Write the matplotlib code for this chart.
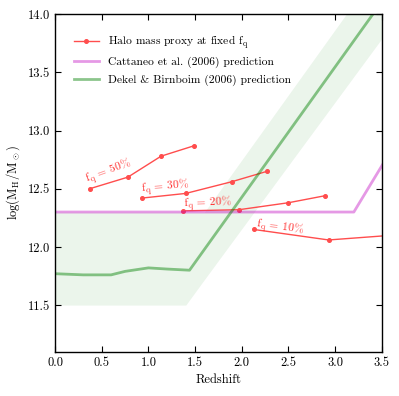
import matplotlib
matplotlib.use("Agg")
import matplotlib.pyplot as plt

plt.rcParams['font.family'] = 'serif'
plt.rcParams['font.serif'] = ['cmr10', 'DejaVu Serif']
plt.rcParams['mathtext.fontset'] = 'cm'
plt.rcParams['axes.formatter.use_mathtext'] = True
plt.rcParams['xtick.direction'] = 'in'
plt.rcParams['ytick.direction'] = 'in'
plt.rcParams['xtick.top'] = True
plt.rcParams['ytick.right'] = True

# Halo mass proxy at fixed f_q
z50 = [0.37, 0.78, 1.135, 1.49]
m50 = [12.50, 12.60, 12.78, 12.87]
z30 = [0.93, 1.40, 1.89, 2.27]
m30 = [12.42, 12.46, 12.56, 12.65]
z20 = [1.37, 1.97, 2.50, 2.89]
m20 = [12.31, 12.32, 12.38, 12.44]
z10 = [2.13, 2.93, 3.60]
m10 = [12.15, 12.06, 12.10]

# Cattaneo et al. (2006)
cat_z = [0.0, 3.2, 3.6]
cat_m = [12.30, 12.30, 12.83]

# Dekel & Birnboim (2006)
db_z = [0.0, 0.3, 0.6, 0.75, 1.0, 1.2, 1.44, 3.6]
db_m = [11.77, 11.76, 11.76, 11.79, 11.82, 11.81, 11.80, 14.22]
band_z = [0.0, 1.4, 1.6, 3.6]
band_lo = [11.5, 11.5, 11.72, 13.9]
band_hi = [12.3, 12.3, 12.3, 14.54]

labels = [r'$\mathrm{f_q}$ = 50%', r'$\mathrm{f_q}$ = 30%', r'$\mathrm{f_q}$ = 20%', r'$\mathrm{f_q}$ = 10%']
lab_pos = [(0.57, 12.645, 20), (1.18, 12.515, 5), (1.64, 12.375, 2), (2.41, 12.165, -8)]

red = '#ff4d4d'
fig = plt.figure(figsize=(3.99, 3.96), dpi=100)
ax = fig.add_axes([0.138, 0.112, 0.819, 0.852])

ax.fill_between(band_z, band_lo, band_hi, color='green', alpha=0.08, lw=0)
first = True
for z, m in [(z50, m50), (z30, m30), (z20, m20), (z10, m10)]:
    ax.plot(z, m, '-o', color=red, lw=1.0, ms=2.6, mec=red,
            label=r'Halo mass proxy at fixed $\mathrm{f_q}$' if first else None)
    first = False
ax.plot(cat_z, cat_m, color='m', alpha=0.4, lw=2, label='Cattaneo et al. (2006) prediction')
ax.plot(db_z, db_m, color='g', alpha=0.45, lw=2, label='Dekel & Birnboim (2006) prediction')

for lab, (x, y, r) in zip(labels, lab_pos):
    ax.text(x, y, lab, color='#ff3333', fontsize=8.3, rotation=r, ha='center', va='center')

ax.set_xlim(0, 3.5)
ax.set_ylim(11.1, 14.0)
ax.set_xticks([0, 0.5, 1.0, 1.5, 2.0, 2.5, 3.0, 3.5])
ax.set_yticks([11.5, 12.0, 12.5, 13.0, 13.5, 14.0])
ax.set_xticklabels(['0.0', '0.5', '1.0', '1.5', '2.0', '2.5', '3.0', '3.5'])
ax.set_yticklabels(['11.5', '12.0', '12.5', '13.0', '13.5', '14.0'])
ax.tick_params(labelsize=9, length=4)
ax.set_xlabel('Redshift', fontsize=9)
ax.set_ylabel(r'$\log(\mathrm{M_H/M_\odot})$', fontsize=9)
ax.legend(loc='upper left', frameon=False, fontsize=8.3, bbox_to_anchor=(0.025, 0.975),
          handlelength=2.2, labelspacing=0.55)
for s in ax.spines.values():
    s.set_linewidth(1.0)

fig.savefig('out.png', dpi=100)
